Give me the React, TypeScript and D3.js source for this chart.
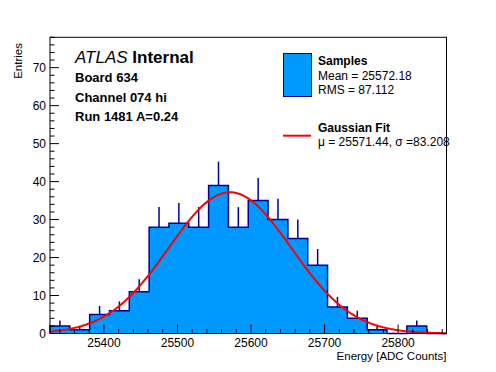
import React from 'react';
import * as d3 from 'd3';

// histogram: 20 bins between xMin and xMax
const xMin = 25326.7;
const xMax = 25865.8;
const counts = [2, 1, 5, 6, 11, 28, 29, 28, 39, 28, 35, 30, 25, 18, 7, 4, 1, 0, 2, 0];
const yMax = 78;

// gaussian fit parameters (from the legend), amplitude
const fitMean = 25571.44;
const fitSigma = 83.208;
const fitAmplitude = 37.2;

const xMajorTicks = [25400, 25500, 25600, 25700, 25800];
const yMajorTicks = [0, 10, 20, 30, 40, 50, 60, 70];

const infoLines = ['Board 634', 'Channel 074 hi', 'Run 1481 A=0.24'];

const W = 496;
const H = 372;
const left = 50;
const right = 446.5;
const top = 37.3;
const bottom = 333.5;

const font = '"Liberation Sans", Arial, Helvetica, sans-serif';
const fillBlue = '#0099ff';
const lineBlue = '#000099';

const App = () => {
  const x = d3.scaleLinear().domain([xMin, xMax]).range([left, right]);
  const y = d3.scaleLinear().domain([0, yMax]).range([bottom, top]);

  const binW = (xMax - xMin) / counts.length;
  const edges = counts.map((_, i) => xMin + i * binW);

  // step outline of the histogram
  const pts: [number, number][] = [[x(xMin), y(0)]];
  counts.forEach((c, i) => {
    pts.push([x(edges[i]), y(c)]);
    pts.push([x(edges[i] + binW), y(c)]);
  });
  pts.push([x(xMax), y(0)]);
  const stepPath = d3.line()(pts) as string;

  const gauss = (v: number) => fitAmplitude * Math.exp(-0.5 * ((v - fitMean) / fitSigma) ** 2);
  const curveX = d3.range(0, 101).map((i) => xMin + (i / 100) * (xMax - xMin));
  const curve = d3.line<number>().x((v) => x(v)).y((v) => y(gauss(v)))(curveX) as string;

  const yMinor = d3.range(0, yMax + 0.1, 2);
  const xMinor = d3.range(25340, xMax, 20);

  return (
    <svg width={W} height={H} style={{ position: 'absolute', left: 0, top: 0, background: '#fff' }}
      fontFamily={font}>
      <rect x={0} y={0} width={W} height={H} fill="#fff" />

      {/* histogram */}
      <path d={stepPath + 'Z'} fill={fillBlue} stroke="none" />
      <path d={stepPath} fill="none" stroke={lineBlue} strokeWidth={1.5} />
      {counts.map((c, i) =>
        c > 0 ? (
          <line key={i} x1={x(edges[i] + binW / 2)} x2={x(edges[i] + binW / 2)}
            y1={y(c)} y2={y(c + Math.sqrt(c))} stroke={lineBlue} strokeWidth={1.5} />
        ) : null
      )}

      {/* fit */}
      <path d={curve} fill="none" stroke="#ff0000" strokeWidth={2} />

      {/* frame */}
      <rect x={left} y={top} width={right - left} height={bottom - top} fill="none" stroke="#000" strokeWidth={1} />

      {/* y axis ticks */}
      {yMinor.map((v) => (
        <line key={'ym' + v} x1={left} x2={left + (v % 10 === 0 ? 9 : 4.5)} y1={y(v)} y2={y(v)} stroke="#000" />
      ))}
      {yMajorTicks.map((v) => (
        <text key={'yl' + v} x={left - 4} y={y(v) + 4.3} fontSize={12} textAnchor="end">{v}</text>
      ))}

      {/* x axis ticks */}
      {xMinor.map((v) => (
        <line key={'xm' + v} x1={x(v)} x2={x(v)} y1={bottom} y2={bottom - (v % 100 === 0 ? 9 : 4.5)} stroke="#000" />
      ))}
      {xMajorTicks.map((v) => (
        <text key={'xl' + v} x={x(v)} y={347} fontSize={12} textAnchor="middle">{v}</text>
      ))}

      <text x={right} y={359.5} fontSize={11.5} textAnchor="end">Energy [ADC Counts]</text>
      <text transform="translate(22,43) rotate(-90)" fontSize={11.5} textAnchor="end">Entries</text>

      {/* labels */}
      <text x={75} y={63} fontSize={17}>
        <tspan fontStyle="italic">ATLAS</tspan>
        <tspan fontWeight="bold"> Internal</tspan>
      </text>
      {infoLines.map((t, i) => (
        <text key={t} x={75} y={82 + i * 19.5} fontSize={13} fontWeight="bold">{t}</text>
      ))}

      {/* legend */}
      <rect x={283.5} y={53.5} width={28} height={43} fill={fillBlue} stroke={lineBlue} strokeWidth={1} />
      <text x={318} y={65} fontSize={12} fontWeight="bold">Samples</text>
      <text x={318} y={80} fontSize={12}>Mean = 25572.18</text>
      <text x={318} y={94} fontSize={12}>RMS = 87.112</text>
      <line x1={283} x2={311} y1={135.7} y2={135.7} stroke="#ff0000" strokeWidth={2} />
      <text x={318} y={132} fontSize={12} fontWeight="bold">Gaussian Fit</text>
      <text x={318} y={146} fontSize={12}>μ = 25571.44, σ =83.208</text>
    </svg>
  );
};

export default App;
